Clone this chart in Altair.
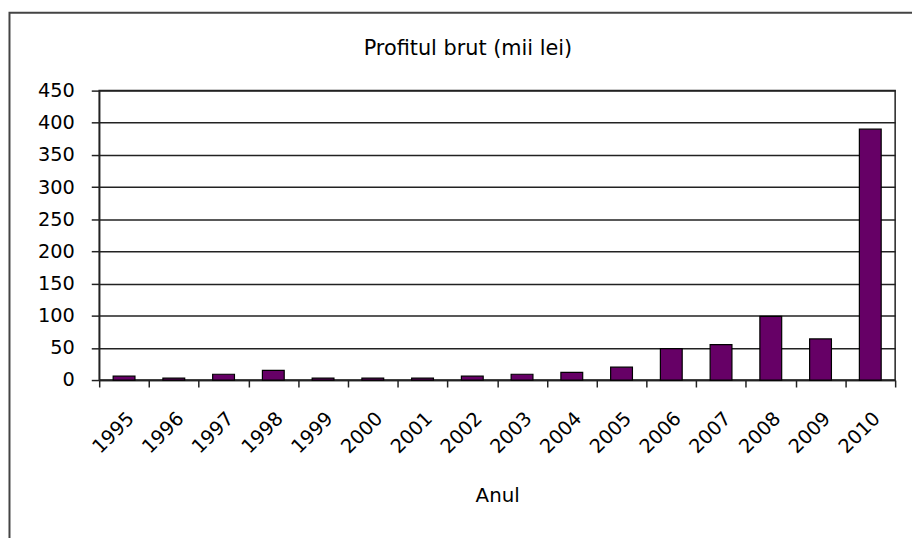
import altair as alt
import pandas as pd

years = ["1995", "1996", "1997", "1998", "1999", "2000", "2001", "2002",
         "2003", "2004", "2005", "2006", "2007", "2008", "2009", "2010"]
profit = [6, 3, 9, 15, 3, 3, 3, 6, 9, 12, 20, 49, 55, 99, 64, 390]
y_ticks = [0, 50, 100, 150, 200, 250, 300, 350, 400, 450]
chart_title = "Profitul brut (mii lei)"
x_title = "Anul"

df = pd.DataFrame({"Anul": years, "Profit": profit})

FONT = "DejaVu Sans"
W, H = 803, 292

bars = alt.Chart(df).mark_bar(
    size=22, color="#660066", stroke="black", strokeWidth=1.2
).encode(
    x=alt.X(
        "Anul:N", sort=None,
        scale=alt.Scale(paddingInner=0, paddingOuter=0),
        axis=alt.Axis(
            title=x_title, labelAngle=-45, tickBand="extent", ticks=True,
            tickSize=7, tickColor="#222", tickWidth=1.5, domainColor="#222",
            domainWidth=1.5, labelFontSize=19.5, titleFontSize=20,
            labelFont=FONT, titleFont=FONT, labelColor="black",
            titleColor="black", titleFontWeight="normal", labelPadding=22,
            titlePadding=29, grid=False,
        ),
    ),
    y=alt.Y(
        "Profit:Q",
        scale=alt.Scale(domain=[0, 450], nice=False),
        axis=alt.Axis(
            values=y_ticks, title=None, grid=True, gridColor="#222",
            gridWidth=1.5, tickSize=8, tickColor="#222", tickWidth=1.5,
            domainColor="#222", domainWidth=1.5, labelFontSize=19.5,
            labelFont=FONT, labelColor="black", labelPadding=17,
        ),
    ),
)

title_mark = alt.Chart(pd.DataFrame({"t": [chart_title]})).mark_text(
    font=FONT, fontSize=21, color="black", align="center", baseline="middle"
).encode(
    text="t:N", x=alt.value(372), y=alt.value(-42),
)

frame = alt.Chart(pd.DataFrame({"f": [0]})).mark_rect(
    fill=None, stroke="#444", strokeWidth=2
).encode(
    x=alt.value(-90.5), y=alt.value(-78.5),
    x2=alt.value(2000), y2=alt.value(2000),
)

chart = alt.layer(frame, title_mark, bars).properties(
    width=W, height=H,
    autosize=alt.AutoSizeParams(type="none"),
    padding={"left": 92, "top": 81, "right": 17, "bottom": 157},
).configure_view(stroke="#222", strokeWidth=1.5)

chart.save("out.html", embed_options={"renderer": "svg", "actions": False})
